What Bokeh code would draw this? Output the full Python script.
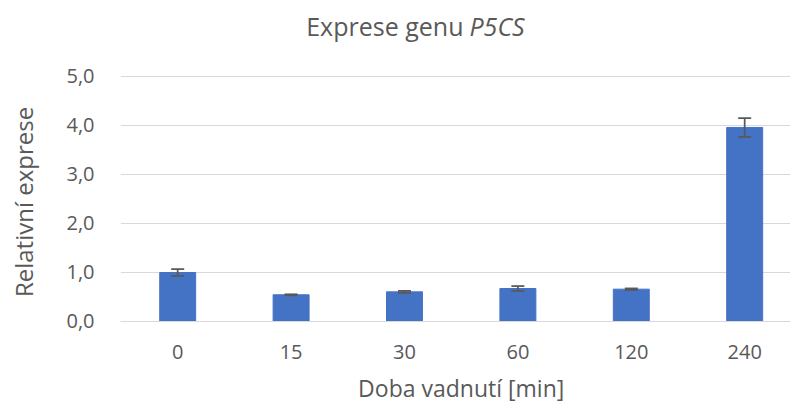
from bokeh.plotting import figure
from bokeh.models import (Range1d, FixedTicker, ColumnDataSource, Whisker, TeeHead,
                          Label, CustomJSTickFormatter)
from bokeh.embed import file_html
from bokeh.resources import INLINE

# ---- data ----
categories = ["0", "15", "30", "60", "120", "240"]
expression = [1.00, 0.545, 0.605, 0.673, 0.66, 3.96]
errors = [0.07, 0.01, 0.02, 0.05, 0.015, 0.19]
y_ticks = [0, 1, 2, 3, 4, 5]

title_plain = "Exprese genu"
title_italic = "P5CS"
x_title = "Doba vadnutí [min]"
y_title = "Relativní exprese"

FONT = "Open Sans"
GREY = "#595959"
GRID = "#D9D9D9"
BLUE = "#4472C4"

xs = list(range(len(categories)))
src = ColumnDataSource(dict(
    x=xs,
    top=expression,
    upper=[v + e for v, e in zip(expression, errors)],
    lower=[v - e for v, e in zip(expression, errors)],
))

# frame covers the canvas (except the y-axis panel) so that title texts are not clipped
p = figure(width=790, height=403, output_backend="svg", toolbar_location=None,
           x_range=Range1d(-0.5044, 5.404), y_range=Range1d(-1.6735, 6.551))
p.min_border_left = 120
p.min_border_right = 0
p.min_border_top = 0
p.min_border_bottom = 0
p.outline_line_color = None
p.background_fill_color = "white"
p.border_fill_color = "white"

p.vbar(x="x", top="top", width=0.317, source=src, fill_color=BLUE, line_color=BLUE)

head_u = TeeHead(size=13, line_color=GREY, line_width=1.75)
head_l = TeeHead(size=13, line_color=GREY, line_width=1.75)
p.add_layout(Whisker(base="x", upper="upper", lower="lower", source=src,
                     line_color=GREY, line_width=1.75, level="annotation",
                     upper_head=head_u, lower_head=head_l))

# x axis drawn at value 0
p.xaxis.fixed_location = 0
p.xaxis.ticker = FixedTicker(ticks=xs)
p.xaxis.major_label_overrides = {i: c for i, c in zip(xs, categories)}
p.xaxis.axis_line_color = GRID
p.xaxis.major_tick_line_color = None
p.xaxis.minor_tick_line_color = None
p.xaxis.major_label_standoff = 18
p.xaxis.major_label_text_font = FONT
p.xaxis.major_label_text_font_size = "20px"
p.xaxis.major_label_text_color = GREY

# y axis
p.yaxis.ticker = FixedTicker(ticks=y_ticks)
p.yaxis.formatter = CustomJSTickFormatter(code="return tick.toFixed(1).replace('.', ',');")
p.yaxis.axis_line_color = None
p.yaxis.major_tick_line_color = None
p.yaxis.minor_tick_line_color = None
p.yaxis.major_label_standoff = 20
p.yaxis.major_label_text_font = FONT
p.yaxis.major_label_text_font_size = "20px"
p.yaxis.major_label_text_color = GREY
p.yaxis.axis_label = y_title
p.yaxis.axis_label_text_font = FONT
p.yaxis.axis_label_text_font_style = "normal"
p.yaxis.axis_label_text_font_size = "24px"
p.yaxis.axis_label_text_color = GREY
p.yaxis.axis_label_standoff = 23

p.xgrid.grid_line_color = None
p.ygrid.grid_line_color = GRID
p.ygrid.grid_line_width = 1

# title (mixed style)
p.add_layout(Label(x=2.520, y=6.04, text=title_plain, text_align="right",
                   text_baseline="alphabetic", text_font=FONT,
                   text_font_size="25px", text_color=GREY))
p.add_layout(Label(x=2.573, y=6.04, text=title_italic, text_align="left",
                   text_baseline="alphabetic", text_font=FONT,
                   text_font_style="italic", text_font_size="25px", text_color=GREY))

# x axis title, centred under the categories
p.add_layout(Label(x=(len(categories) - 1) / 2, y=-1.36, text=x_title, text_align="center",
                   text_baseline="alphabetic", text_font=FONT,
                   text_font_size="23px", text_color=GREY))

open("out.html", "w").write(file_html(p, INLINE))
